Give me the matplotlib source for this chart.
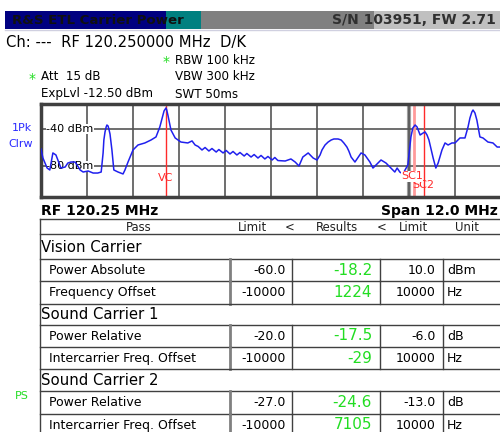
import matplotlib
matplotlib.use('Agg')
import matplotlib.pyplot as plt
from matplotlib.patches import Rectangle

W, H = 500, 432

# spectrum trace (MHz, dBm)
trace_freq = [114.25, 114.30, 114.41, 114.48, 114.56, 114.64, 114.72, 114.77, 114.88, 114.95,
              115.03, 115.14, 115.19, 115.27, 115.35, 115.48, 115.61, 115.73, 115.82, 115.87,
              115.89, 115.92, 115.95, 115.97, 116.00, 116.02, 116.05, 116.10, 116.15, 116.26,
              116.39, 116.44, 116.52, 116.65,
              116.78, 116.96, 117.12, 117.25, 117.35, 117.43, 117.46, 117.51, 117.53, 117.56,
              117.64, 117.75, 117.90, 118.08, 118.19, 118.27,
              118.35, 118.45, 118.53, 118.63, 118.71, 118.82, 118.89, 119.00, 119.08, 119.18,
              119.26, 119.36, 119.44, 119.55, 119.62, 119.73, 119.81, 119.91, 119.99, 120.09,
              120.17, 120.28, 120.35, 120.43,
              120.62, 120.77, 120.88, 120.98, 121.08, 121.22, 121.35, 121.45, 121.53, 121.58,
              121.66, 121.74, 121.82, 121.89, 122.00, 122.08, 122.15, 122.23, 122.28, 122.34,
              122.44, 122.60, 122.70, 122.83, 122.91, 122.99, 123.12, 123.25, 123.38, 123.48,
              123.54, 123.61, 123.69,
              123.82, 123.90, 123.95, 124.01, 124.06, 124.14, 124.22, 124.27, 124.32, 124.37,
              124.48, 124.55, 124.61, 124.71, 124.79, 124.87, 124.97, 125.05, 125.18, 125.31,
              125.39, 125.44, 125.49, 125.52, 125.57, 125.62, 125.70, 125.78, 125.91, 126.04,
              126.15, 126.22]
trace_level = [-61.6, -71.4, -82.2, -84.3, -65.9, -68.1, -76.8, -82.2, -81.1, -76.8,
               -75.7, -75.7, -78.9, -84.3, -86.5, -85.4, -87.6, -87.6, -86.5, -65.9,
               -51.9, -43.2, -37.8, -35.7, -36.8, -40.0, -45.4, -62.7, -84.3, -86.5,
               -88.6, -84.3, -75.7, -62.7,
               -57.3, -55.1, -51.9, -48.6, -37.8, -24.9, -20.5, -17.3, -19.5, -24.9,
               -41.1, -49.7, -54.1, -55.1, -52.9, -57.3,
               -58.9, -62.7, -60.0, -63.8, -61.1, -64.9, -62.2, -65.9, -63.2, -67.0,
               -64.3, -68.1, -65.4, -69.2, -66.5, -70.3, -67.6, -71.4, -68.6, -72.4,
               -69.7, -73.5, -70.8, -74.1,
               -74.6, -72.4, -75.7, -80.0, -70.3, -65.9, -71.4, -73.5, -68.1, -62.7,
               -57.3, -54.1, -51.9, -50.8, -50.8, -51.9, -55.1, -59.5, -63.8, -70.3,
               -75.7, -65.9, -68.1, -75.7, -82.2, -78.9, -73.5, -76.8, -82.2, -86.5,
               -82.2, -86.5, -88.6,
               -78.9, -48.6, -38.9, -35.7, -37.8, -46.5, -44.3, -43.2, -46.5, -51.9,
               -71.4, -82.2, -76.8, -62.7, -55.1, -57.3, -55.1, -55.1, -49.7, -49.7,
               -37.8, -28.1, -21.6, -19.5, -22.7, -30.3, -48.6, -49.7, -54.1, -55.1,
               -59.5, -59.5]

marker_names = ['VC', 'SC1', 'SC2']
marker_freq = [117.51, 123.99, 124.25]

f_center = 120.25
f_span = 12.0
ref_top = -13.0
ref_bottom = -113.5
level_lines = [-40, -80]

sections = ['Vision Carrier', 'Sound Carrier 1', 'Sound Carrier 2']
row_labels = ['Power Absolute', 'Frequency Offset',
              'Power Relative', 'Intercarrier Freq. Offset',
              'Power Relative', 'Intercarrier Freq. Offset']
lower_limits = ['-60.0', '-10000', '-20.0', '-10000', '-27.0', '-10000']
results = ['-18.2', '1224', '-17.5', '-29', '-24.6', '7105']
upper_limits = ['10.0', '10000', '-6.0', '10000', '-13.0', '10000']
units = ['dBm', 'Hz', 'dB', 'Hz', 'dB', 'Hz']

GREEN = '#22dd22'
BLUE = '#2a2aff'
RED = '#ff2a2a'
LINE = '#404040'

fig = plt.figure(figsize=(W / 100, H / 100), dpi=100)
ax = fig.add_axes([0, 0, 1, 1])
ax.set_xlim(0, W)
ax.set_ylim(H, 0)
ax.axis('off')

# title bar
for x0, x1, c in [(5, 166, '#000080'), (166, 201, '#008080'), (201, 374, '#808080'), (374, 500, '#c0c0c0')]:
    ax.add_patch(Rectangle((x0, 11), x1 - x0, 18, color=c, lw=0))
ax.plot([5, 500], [30, 30], color='#d0d0e0', lw=1)
ax.text(12, 20.5, 'R&S ETL Carrier Power', fontsize=9.6, fontweight='bold', color='#101010', va='center')
ax.text(496, 20.5, 'S/N 103951, FW 2.71', fontsize=10, fontweight='bold', color='#303030', va='center', ha='right')

# settings block
ax.text(6, 43, 'Ch: ---  RF 120.250000 MHz  D/K', fontsize=10.6, va='center')
ax.text(166, 62, '*', fontsize=10, color=GREEN, va='center', ha='center')
ax.text(175, 60, 'RBW 100 kHz', fontsize=8.6, va='center')
ax.text(32, 79, '*', fontsize=10, color=GREEN, va='center', ha='center')
ax.text(41, 77, 'Att  15 dB', fontsize=8.6, va='center')
ax.text(175, 77, 'VBW 300 kHz', fontsize=8.6, va='center')
ax.text(41, 94, 'ExpLvl -12.50 dBm', fontsize=8.6, va='center')
ax.text(175, 94, 'SWT 50ms', fontsize=8.6, va='center')
ax.text(22, 128, '1Pk', fontsize=8, color=BLUE, va='center', ha='center')
ax.text(21, 144, 'Clrw', fontsize=8, color=BLUE, va='center', ha='center')

# spectrum
sp = fig.add_axes([41 / W, 1 - 197 / H, 460 / W, 93 / H])
f0 = f_center - f_span / 2
sp.set_xlim(f0, f0 + f_span)
sp.set_ylim(ref_bottom, ref_top)
sp.set_xticks([f0 + k * f_span / 10 for k in range(1, 10)])
sp.set_yticks(level_lines)
sp.tick_params(length=0, labelbottom=False, labelleft=False)
sp.grid(color='#555555', lw=1.2)
sp.set_axisbelow(True)
for side in ['left', 'top', 'bottom']:
    sp.spines[side].set_linewidth(2.5)
    sp.spines[side].set_color(LINE)
sp.spines['right'].set_visible(False)
sp.axvline(f0 + 8 * f_span / 10, color='#a0a0a0', lw=3, zorder=0.5)
for lv in level_lines:
    sp.text(f0 + 0.13, lv, '%d dBm' % lv, fontsize=8, va='center', zorder=2,
            bbox=dict(fc='white', ec='none', pad=0.3))
sp.axvline(marker_freq[0], color=RED, lw=1, zorder=1.5)
sp.axvline(marker_freq[1], color='#ff9a9a', lw=2, zorder=1.5)
sp.axvline(marker_freq[2], color=RED, lw=1, zorder=1.5)
sp.plot(trace_freq, trace_level, color='#2020ee', lw=1.1, zorder=3)
sp.text(marker_freq[0], -93, marker_names[0], color=RED, fontsize=8, ha='center', va='center', zorder=4)
sp.text(marker_freq[2] - 0.02, -100.5, marker_names[2], color=RED, fontsize=8, ha='center', va='center', zorder=4)
sp.text(marker_freq[1] - 0.06, -91, marker_names[1], color=RED, fontsize=8, ha='center', va='center', zorder=4,
        bbox=dict(fc='white', ec='none', pad=0.2))

ax.text(41, 211, 'RF 120.25 MHz', fontsize=10, fontweight='bold', va='center')
ax.text(498, 211, 'Span 12.0 MHz', fontsize=10, fontweight='bold', va='center', ha='right')

# result table
ax.plot([40, 500], [219, 219], color=LINE, lw=1)
ax.plot([40, 500], [234, 234], color=LINE, lw=1)
ax.plot([40, 40], [219, 432], color=LINE, lw=1)
hdr_y = 227.5
hdr = [(139, 'Pass'), (252, 'Limit'), (290, '<'), (337, 'Results'), (382, '<'), (413, 'Limit'), (467, 'Unit')]
for hx, ht in hdr:
    ax.text(hx, hdr_y, ht, fontsize=8.4, ha='center', va='center', color='#202020')

y = 234
sec_h = [25, 21, 22]
row_h = 22.3
for s, name in enumerate(sections):
    ax.text(41, y + sec_h[s] / 2 + 0.5, name, fontsize=10.7, va='center')
    y += sec_h[s]
    for r in range(2):
        i = 2 * s + r
        ax.plot([40, 500], [y, y], color=LINE, lw=1)
        yc = y + row_h / 2 + 0.5
        ax.plot([230, 230], [y, y + row_h], color='#808080', lw=2)
        for xs in [291.7, 380, 442.7]:
            ax.plot([xs, xs], [y, y + row_h], color=LINE, lw=1)
        ax.text(49, yc, row_labels[i], fontsize=9, va='center')
        ax.text(286, yc, lower_limits[i], fontsize=9, va='center', ha='right')
        ax.text(372, yc - 0.5, results[i], fontsize=11, va='center', ha='right', color=GREEN)
        ax.text(436, yc, upper_limits[i], fontsize=9, va='center', ha='right')
        ax.text(447, yc, units[i], fontsize=9, va='center')
        y += row_h
    if s < len(sections) - 1:
        ax.plot([40, 500], [y, y], color=LINE, lw=1)

ax.text(22, 396, 'PS', fontsize=8, color=GREEN, ha='center', va='center')

fig.savefig('out.png', dpi=100)
